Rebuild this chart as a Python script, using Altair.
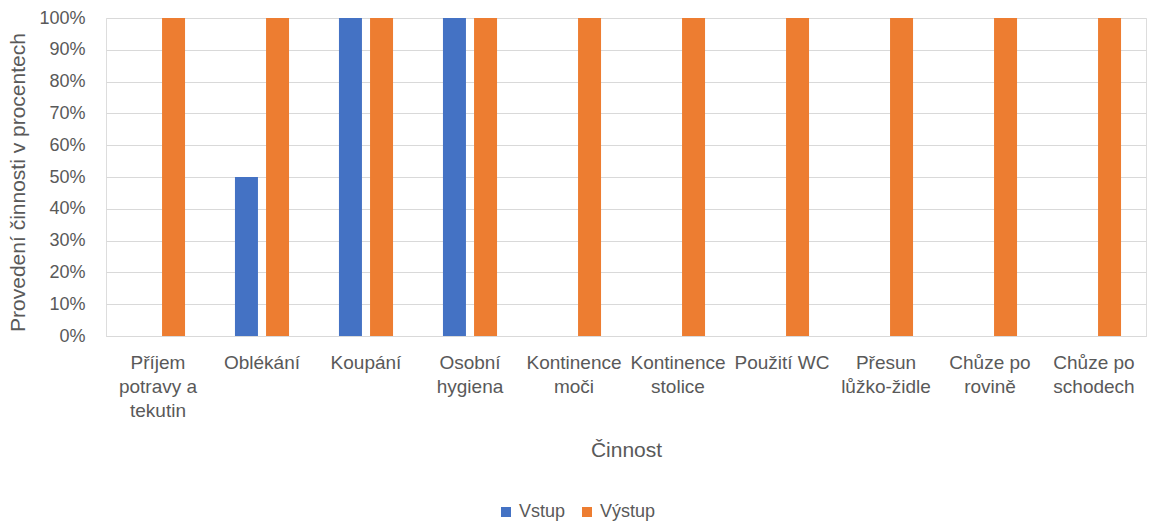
import altair as alt
import pandas as pd

categories = [
    "Příjem\npotravy a\ntekutin",
    "Oblékání",
    "Koupání",
    "Osobní\nhygiena",
    "Kontinence\nmoči",
    "Kontinence\nstolice",
    "Použití WC",
    "Přesun\nlůžko-židle",
    "Chůze po\nrovině",
    "Chůze po\nschodech",
]
series = ["Vstup", "Výstup"]
vstup = [0, 0.5, 1.0, 1.0, 0, 0, 0, 0, 0, 0]
vystup = [1.0, 1.0, 1.0, 1.0, 1.0, 1.0, 1.0, 1.0, 1.0, 1.0]
y_ticks = [0, 0.1, 0.2, 0.3, 0.4, 0.5, 0.6, 0.7, 0.8, 0.9, 1.0]
colors = ["#4472C4", "#ED7D31"]

rows = []
for c, a, b in zip(categories, vstup, vystup):
    rows.append({"cat": c, "serie": series[0], "val": a})
    rows.append({"cat": c, "serie": series[1], "val": b})
df = pd.DataFrame(rows)

FONT = "Liberation Sans"
GRAY = "#595959"

chart = (
    alt.Chart(df)
    .mark_bar()
    .encode(
        x=alt.X(
            "cat:N",
            sort=categories,
            scale=alt.Scale(paddingInner=0.48, paddingOuter=0.24),
            axis=alt.Axis(
                title="Činnost",
                labelExpr="split(datum.label, '\\n')",
                labelAngle=0,
                labelLimit=300,
                labelLineHeight=24,
                labelBaseline="top",
                labelPadding=17,
                labelFontSize=19,
                labelColor=GRAY,
                labelFont=FONT,
                ticks=False,
                tickSize=0,
                domainColor="#D9D9D9",
                titleFontSize=21,
                titleFont=FONT,
                titleColor=GRAY,
                titleFontWeight="normal",
                titleX=520,
                titleY=114,
                titleBaseline="middle",
                titleAnchor="middle",
            ),
        ),
        xOffset=alt.XOffset("serie:N", sort=series, scale=alt.Scale(paddingInner=0.26)),
        y=alt.Y(
            "val:Q",
            scale=alt.Scale(domain=[0, 1], nice=False),
            axis=alt.Axis(
                title="Provedení činnosti v procentech",
                values=y_ticks,
                format=".0%",
                labelFontSize=18,
                labelColor=GRAY,
                labelFont=FONT,
                labelPadding=21,
                ticks=False,
                tickSize=0,
                domain=False,
                grid=True,
                gridColor="#D9D9D9",
                gridWidth=1,
                titleFontSize=21,
                titleFont=FONT,
                titleColor=GRAY,
                titleFontWeight="normal",
                titleX=-88,
                titleY=164,
                titleBaseline="middle",
            ),
        ),
        color=alt.Color(
            "serie:N",
            sort=series,
            scale=alt.Scale(domain=series, range=colors),
            legend=alt.Legend(
                title=None,
                orient="none",
                direction="horizontal",
                legendX=391,
                legendY=485,
                symbolType="square",
                symbolSize=100,
                symbolStrokeWidth=0,
                labelFontSize=18,
                labelFont=FONT,
                labelColor=GRAY,
                labelOffset=4,
                columnPadding=12,
            ),
        ),
    )
    .properties(
        width=1040,
        height=318,
        autosize=alt.AutoSizeParams(type="none"),
        padding={"left": 106, "top": 18, "right": 4, "bottom": 185},
    )
    .configure_view(stroke=None)
    .configure(background="white")
)

chart.save("out.html", embed_options={"renderer": "svg", "actions": False})
